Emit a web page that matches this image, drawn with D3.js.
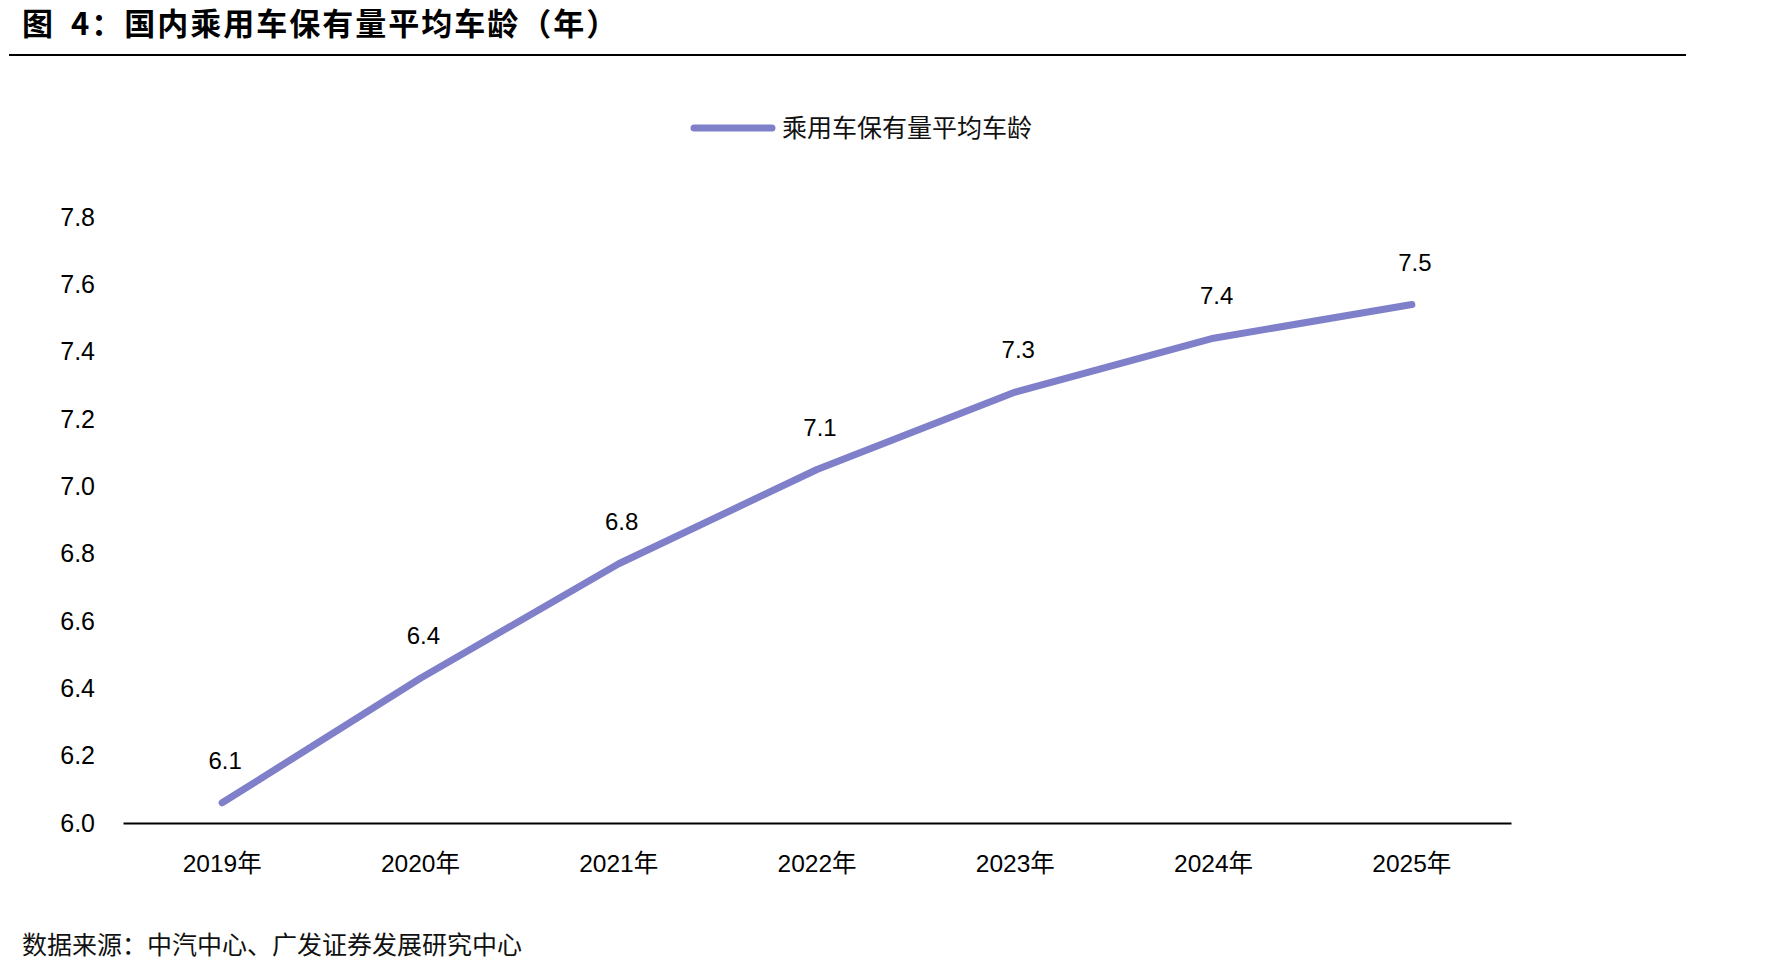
<!DOCTYPE html>
<html>
<head>
<meta charset="utf-8">
<script src="https://cdn.jsdelivr.net/npm/d3@7"></script>
<style>
  body { margin: 0; background: #fff; }
  text { font-family: "Liberation Sans", Arial, "Noto Sans CJK SC", sans-serif; }
</style>
</head>
<body>
<div id="chart"></div>
<script>
// data
var years = ["2019年", "2020年", "2021年", "2022年", "2023年", "2024年", "2025年"];
var ages = [6.06, 6.43, 6.77, 7.05, 7.28, 7.44, 7.54];
var ageLabels = ["6.1", "6.4", "6.8", "7.1", "7.3", "7.4", "7.5"];
var yTicks = [6.0, 6.2, 6.4, 6.6, 6.8, 7.0, 7.2, 7.4, 7.6, 7.8];

var width = 1790;
var height = 974;
var lineColor = "#7f80c9";

var svg = d3.select("#chart").append("svg")
  .attr("width", width)
  .attr("height", height);

// title + rule
var title = svg.append("text")
  .attr("x", 22)
  .attr("y", 35)
  .style("font-family", "'Noto Sans CJK SC', sans-serif")
  .style("font-size", "31px")
  .style("font-weight", "bold")
  .style("letter-spacing", "2px");
title.append("tspan").text("图");
title.append("tspan").attr("dx", 16).text("4：国内乘用车保有量平均车龄（年）");

svg.append("line")
  .attr("x1", 9).attr("x2", 1686)
  .attr("y1", 55).attr("y2", 55)
  .attr("stroke", "#000")
  .attr("stroke-width", 2);

// legend
svg.append("line")
  .attr("x1", 694).attr("x2", 772)
  .attr("y1", 128).attr("y2", 128)
  .attr("stroke", lineColor)
  .attr("stroke-width", 7)
  .attr("stroke-linecap", "round");

svg.append("text")
  .attr("x", 782)
  .attr("y", 128)
  .attr("dy", "0.35em")
  .style("font-family", "'Noto Sans CJK SC', sans-serif")
  .style("font-size", "25px")
  .style("fill", "#111")
  .text("乘用车保有量平均车龄");

var xScale = d3.scaleBand()
  .domain(years)
  .range([123, 1511]);

var yScale = d3.scaleLinear()
  .domain([6.0, 7.8])
  .range([823, 217]);

// y axis labels (no axis line)
var yAxis = d3.axisLeft(yScale)
  .tickValues(yTicks)
  .tickFormat(d3.format(".1f"))
  .tickSize(0)
  .tickPadding(0);

var yAxisG = svg.append("g")
  .attr("transform", "translate(95,0)")
  .call(yAxis);
yAxisG.select(".domain").remove();
yAxisG.selectAll("text")
  .style("font-family", "'Liberation Sans', Arial, sans-serif")
  .style("font-size", "25px")
  .style("fill", "#000");

// x axis
var xAxis = d3.axisBottom(xScale)
  .tickSize(0)
  .tickPadding(32);

var xAxisG = svg.append("g")
  .attr("transform", "translate(0,823)")
  .call(xAxis);
xAxisG.select(".domain")
  .attr("stroke", "#000")
  .attr("stroke-width", 1.8);
xAxisG.selectAll("text")
  .style("font-family", "'Liberation Sans', Arial, 'Noto Sans CJK SC', sans-serif")
  .style("font-size", "24.5px")
  .style("fill", "#000");

// series line
var line = d3.line()
  .x(function(d, i) { return xScale(years[i]) + xScale.bandwidth() / 2; })
  .y(function(d) { return yScale(d); });

svg.append("path")
  .datum(ages)
  .attr("d", line)
  .attr("fill", "none")
  .attr("stroke", lineColor)
  .attr("stroke-width", 7)
  .attr("stroke-linecap", "round")
  .attr("stroke-linejoin", "round");

// data labels
svg.selectAll(".val-label")
  .data(ages)
  .enter().append("text")
  .attr("class", "val-label")
  .attr("x", function(d, i) { return xScale(years[i]) + xScale.bandwidth() / 2 + 3; })
  .attr("y", function(d) { return yScale(d) - 34; })
  .attr("text-anchor", "middle")
  .style("font-size", "24px")
  .style("fill", "#000")
  .text(function(d, i) { return ageLabels[i]; });

// source
svg.append("text")
  .attr("x", 22)
  .attr("y", 945)
  .attr("dy", "0.35em")
  .style("font-family", "'Noto Sans CJK SC', sans-serif")
  .style("font-size", "25px")
  .style("fill", "#111")
  .text("数据来源：中汽中心、广发证券发展研究中心");
</script>
</body>
</html>
